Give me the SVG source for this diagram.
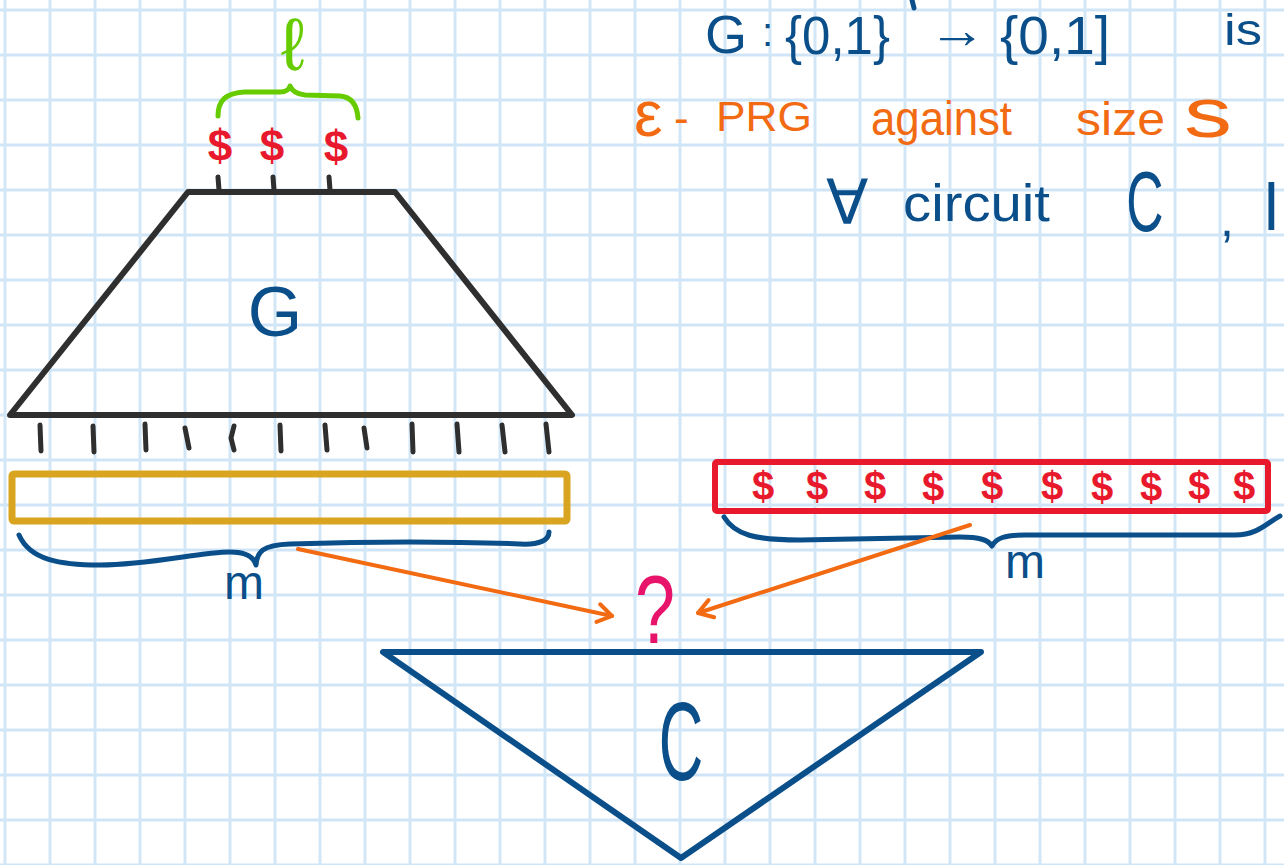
<svg xmlns="http://www.w3.org/2000/svg" width="1284" height="865" viewBox="0 0 1284 865">
<defs>
<pattern id="grid" patternUnits="userSpaceOnUse" x="3.5" y="8.5" width="45" height="45">
<rect x="0" y="0" width="45" height="3" fill="#cfe5f7"/>
<rect x="0" y="0" width="3" height="45" fill="#d3e6f6"/>
</pattern>
<marker id="arrow" markerUnits="userSpaceOnUse" markerWidth="24" markerHeight="24" refX="18" refY="12" orient="auto" viewBox="0 0 24 24">
<path d="M4,3 L18,12 L4,21" fill="none" stroke="#f26a12" stroke-width="4" stroke-linecap="round" stroke-linejoin="round"/>
</marker>
<style>
.hand{font-family:"Liberation Sans","DejaVu Sans",sans-serif;}
.blue{fill:#0b4f8a;}
.orange{fill:#f26a12;}
.red{fill:#e8192c;font-weight:bold;}
.stk{fill:none;stroke-linecap:round;stroke-linejoin:round;}
.tick{fill:none;stroke:#2f2f2f;stroke-width:5;stroke-linecap:round;}
</style>
</defs>
<rect width="1284" height="865" fill="#ffffff"/>
<rect width="1284" height="865" fill="url(#grid)"/>

<g id="title">
<text class="hand blue" x="705" y="53" font-size="54">G</text>
<text class="hand blue" x="762" y="46" font-size="40">:</text>
<text class="hand blue" x="785" y="54" font-size="54" textLength="105" lengthAdjust="spacingAndGlyphs">{0,1}</text>
<path class="stk" d="M912,0 L914,8" stroke="#0b4f8a" stroke-width="5"/>
<text class="hand blue" x="928" y="48" font-size="52" textLength="58" lengthAdjust="spacingAndGlyphs">→</text>
<text class="hand blue" x="1000" y="54" font-size="54" textLength="110" lengthAdjust="spacingAndGlyphs">{0,1]</text>
<text class="hand blue" x="1224" y="45" font-size="44" textLength="38" lengthAdjust="spacingAndGlyphs">is</text>
</g>

<g id="prg-line">
<text class="hand orange" x="634" y="136" font-size="64">ε</text>
<text class="hand orange" x="674" y="133" font-size="44">-</text>
<text class="hand orange" x="716" y="131" font-size="42" textLength="96" lengthAdjust="spacingAndGlyphs">PRG</text>
<text class="hand orange" x="871" y="135" font-size="48" textLength="141" lengthAdjust="spacingAndGlyphs">against</text>
<text class="hand orange" x="1076" y="135" font-size="46" textLength="89" lengthAdjust="spacingAndGlyphs">size</text>
<text class="hand orange" x="1184" y="137" font-size="70" textLength="48" lengthAdjust="spacingAndGlyphs">s</text>
</g>

<g id="forall-line">
<text class="hand blue" x="826" y="224" font-size="62">∀</text>
<text class="hand blue" x="903" y="221" font-size="52" textLength="147" lengthAdjust="spacingAndGlyphs">circuit</text>
<text class="hand blue" transform="translate(1145,231) scale(0.6,1)" text-anchor="middle" font-size="86">C</text>
<text class="hand blue" x="1220" y="236" font-size="50">,</text>
<text class="hand blue" x="1264" y="230" font-size="66">l</text>
</g>

<g id="seed">
<text class="hand" x="293" y="70" font-size="74" fill="#66cc00" text-anchor="middle" font-family="DejaVu Sans, sans-serif">ℓ</text>
<path class="stk" d="M218,116 C218,100 226,93 245,92 L280,92 C286,92 289,90 290,86 C292,91 296,94 305,95 L340,96 C352,97 357,105 358,118" stroke="#66cc00" stroke-width="5"/>
<text class="hand red" x="220" y="161" font-size="44" text-anchor="middle">$</text>
<text class="hand red" x="272" y="161" font-size="44" text-anchor="middle">$</text>
<text class="hand red" x="336" y="162" font-size="44" text-anchor="middle">$</text>
</g>

<g id="generator">
<path d="M188,192 L395,192 L572,415 L10,415 Z" fill="none" stroke="#2f2f2f" stroke-width="6" stroke-linejoin="round"/>
<path class="tick" d="M218,177 L219,190 M273,177 L274,190 M329,177 L330,190"/>
<text class="hand blue" x="275" y="336" font-size="70" text-anchor="middle">G</text>
<path class="tick" d="M40,425 L41,451 M93,426 L94,452 M145,424 L146,450 M185,428 L189,448 M234,426 L231,438 L234,450 M280,425 L281,451 M325,425 L327,450 M364,428 L367,448 M412,424 L413,452 M457,424 L459,452 M502,425 L505,452 M546,424 L549,452"/>
</g>

<g id="output-box">
<rect x="12" y="474" width="555" height="47" rx="2" fill="none" stroke="#d9a420" stroke-width="7"/>
<path class="stk" d="M19,535 C30,560 60,565 100,565 C150,565 200,552 230,552 C248,552 254,558 256,565 C257,552 262,545 290,544 C380,541 470,542 520,544 C540,545 549,540 549,532" stroke="#0b4f8a" stroke-width="5"/>
<text class="hand blue" x="244" y="599" font-size="48" text-anchor="middle">m</text>
</g>

<g id="random-box">
<rect x="715" y="462" width="553" height="49" rx="2" fill="none" stroke="#e8192c" stroke-width="6"/>
<g font-size="40" text-anchor="middle">
<text class="hand red" x="763" y="500">$</text>
<text class="hand red" x="817" y="500">$</text>
<text class="hand red" x="875" y="500">$</text>
<text class="hand red" x="933" y="501">$</text>
<text class="hand red" x="992" y="500">$</text>
<text class="hand red" x="1052" y="500">$</text>
<text class="hand red" x="1102" y="501">$</text>
<text class="hand red" x="1151" y="501">$</text>
<text class="hand red" x="1199" y="500">$</text>
<text class="hand red" x="1244" y="500">$</text>
</g>
<path class="stk" d="M724,517 C735,535 755,540 800,540 L960,537 C980,537 988,540 992,546 C996,538 1005,535 1025,535 L1235,535 C1258,535 1268,522 1280,516" stroke="#0b4f8a" stroke-width="5"/>
<text class="hand blue" x="1025" y="578" font-size="48" text-anchor="middle">m</text>
</g>

<g id="question">
<text class="hand" transform="translate(655,643) scale(0.75,1)" font-size="96" text-anchor="middle" fill="#e8146c">?</text>
</g>

<g id="circuit">
<path d="M383,652 L981,652 L681,858 Z" fill="none" stroke="#0b4f8a" stroke-width="6" stroke-linejoin="round"/>
<text class="hand blue" transform="translate(681,780) scale(0.55,1)" text-anchor="middle" font-size="112">C</text>
</g>

<g id="connectors">
<path d="M298,549 L612,616" fill="none" stroke="#f26a12" stroke-width="4" stroke-linecap="round" marker-end="url(#arrow)"/>
<path d="M970,525 L698,613" fill="none" stroke="#f26a12" stroke-width="4" stroke-linecap="round" marker-end="url(#arrow)"/>
</g>
</svg>
